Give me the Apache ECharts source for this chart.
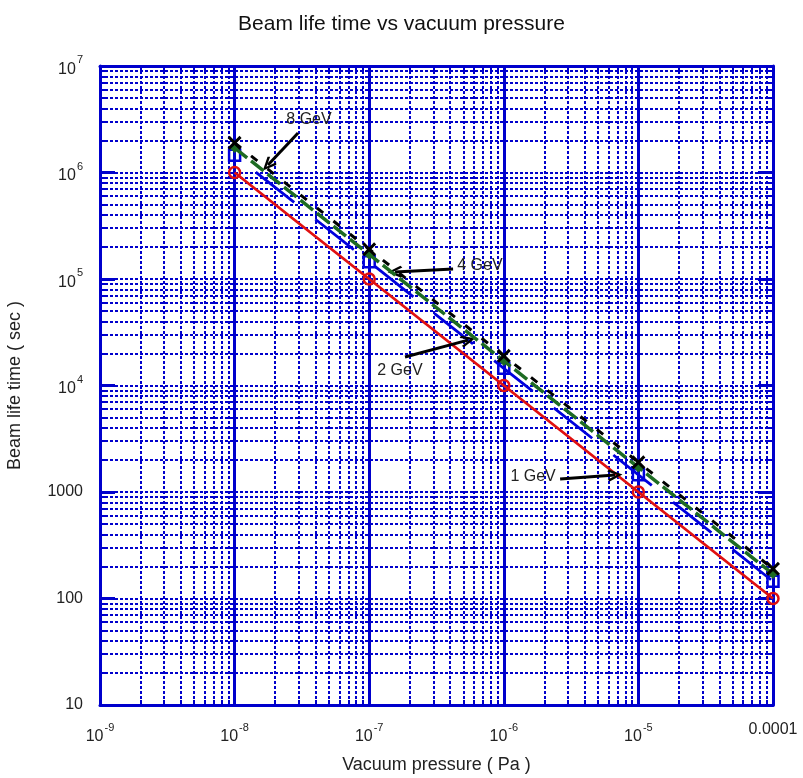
<!DOCTYPE html>
<html>
<head>
<meta charset="utf-8">
<title>Beam life time vs vacuum pressure</title>
<script src="https://cdn.jsdelivr.net/npm/echarts@6/dist/echarts.min.js"></script>
<style>
  html, body { margin: 0; padding: 0; background: #fff; }
  #chart { width: 803px; height: 778px; }
</style>
</head>
<body>
<div id="chart"></div>
<script>
// Vacuum pressure (Pa) at which each beam energy was evaluated
const pressure = [1e-8, 1e-7, 1e-6, 1e-5, 1e-4];

// Beam life time (sec) for each beam energy
const life1GeV = [1e6, 1e5, 1e4, 1000, 100];
const life2GeV = [1.45e6, 1.45e5, 1.45e4, 1450, 145];
const life4GeV = [1.7e6, 1.7e5, 1.7e4, 1700, 170];
const life8GeV = [1.9e6, 1.9e5, 1.9e4, 1900, 190];

// Tick labels keyed by decade exponent: [base text, superscript]
const xTickLabels = { '-9': ['10', '-9'], '-8': ['10', '-8'], '-7': ['10', '-7'], '-6': ['10', '-6'], '-5': ['10', '-5'], '-4': ['0.0001', ''] };
const yTickLabels = { '1': ['10', ''], '2': ['100', ''], '3': ['1000', ''], '4': ['10', '4'], '5': ['10', '5'], '6': ['10', '6'], '7': ['10', '7'] };

// Callout text and arrows, in data coordinates (pressure, life time)
const calloutText = ['8 GeV', '4 GeV', '2 GeV', '1 GeV'];
const calloutTextAt = [[3.57e-8, 3.11e6], [6.65e-7, 1.35e5], [1.69e-7, 1.37e4], [1.65e-6, 1384]];
const calloutArrowFrom = [[2.96e-8, 2.35e6], [4.2e-7, 1.24e5], [1.845e-7, 1.853e4], [2.62e-6, 1325]];
const calloutArrowTo = [[1.77e-8, 1.175e6], [1.556e-7, 1.164e5], [5.42e-7, 2.67e4], [6.7e-6, 1445]];

const FONT = 'Liberation Sans, Arial, Helvetica, sans-serif';
const GRID_BLUE = '#0000cc';

const pairs = ys => pressure.map((p, i) => [p, ys[i]]);
const decade = v => String(Math.round(Math.log10(v)));
const tickText = table => v => {
  const t = table[decade(v)];
  if (!t) return '';
  return '{b|' + t[0] + '}' + (t[1] ? '{sup|' + t[1] + '}' : '');
};

const labelRich = {
  b: { fontSize: 16, fontFamily: FONT, color: '#222', verticalAlign: 'bottom' },
  sup: { fontSize: 11, fontFamily: FONT, color: '#222', verticalAlign: 'bottom', padding: [0, 0, 12, 1] }
};

const dotted = { color: GRID_BLUE, width: 2, type: [3, 2] };
const frame = { show: true, onZero: false, lineStyle: { color: GRID_BLUE, width: 3 } };

function baseX(extra) {
  return Object.assign({
    type: 'log', logBase: 10, min: 1e-9, max: 1e-4,
    axisLine: frame,
    axisTick: { show: true, inside: true, length: 14, lineStyle: { color: GRID_BLUE, width: 3 } },
    minorTick: { show: true, splitNumber: 9, length: 5, lineStyle: { color: GRID_BLUE, width: 2 } },
    axisLabel: { show: false },
    splitLine: { show: false },
    minorSplitLine: { show: false }
  }, extra);
}
function baseY(extra) {
  return Object.assign({
    type: 'log', logBase: 10, min: 10, max: 1e7,
    axisLine: frame,
    axisTick: { show: true, inside: true, length: 15, lineStyle: { color: GRID_BLUE, width: 3 } },
    minorTick: { show: true, splitNumber: 9, length: 5, lineStyle: { color: GRID_BLUE, width: 2 } },
    axisLabel: { show: false },
    splitLine: { show: false },
    minorSplitLine: { show: false }
  }, extra);
}

// Open chevron arrowhead (tip pointing up, rotated along the line by ECharts)
const chevron = 'path://M5,0 L10,9 L8.4,10.2 L5,3.6 L1.6,10.2 L0,9 Z';
// Bold "x" marker
const cross = 'path://M1.5,0 L5,3.5 L8.5,0 L10,1.5 L6.5,5 L10,8.5 L8.5,10 L5,6.5 L1.5,10 L0,8.5 L3.5,5 L0,1.5 Z';

const chart = echarts.init(document.getElementById('chart'), null, { renderer: 'canvas' });

chart.setOption({
  animation: false,
  backgroundColor: '#fff',
  title: {
    text: 'Beam life time vs vacuum pressure',
    left: 'center', top: 9,
    textStyle: { fontFamily: FONT, fontSize: 21, fontWeight: 'normal', color: '#111' }
  },
  grid: { left: 100, right: 30, top: 66, bottom: 73, containLabel: false, outerBoundsMode: 'none' },
  xAxis: [
    baseX({
      position: 'bottom',
      name: 'Vacuum pressure ( Pa )',
      nameLocation: 'middle', nameGap: 51,
      nameTextStyle: { fontFamily: FONT, fontSize: 18, color: '#222' },
      axisLabel: { show: true, margin: 17, formatter: tickText(xTickLabels), rich: labelRich },
      splitLine: { show: true, lineStyle: { color: GRID_BLUE, width: 3, type: 'solid' } },
      minorSplitLine: { show: true, lineStyle: dotted }
    }),
    baseX({ position: 'top' })
  ],
  yAxis: [
    baseY({
      position: 'left',
      name: 'Beam life time ( sec )',
      nameLocation: 'middle', nameGap: 76, nameRotate: 90,
      nameTextStyle: { fontFamily: FONT, fontSize: 18, color: '#222' },
      axisLabel: { show: true, margin: 17, formatter: tickText(yTickLabels), rich: labelRich },
      splitLine: { show: true, lineStyle: dotted },
      minorSplitLine: { show: true, lineStyle: dotted }
    }),
    baseY({ position: 'right' })
  ],
  series: [
    {
      name: '1 GeV', type: 'line', data: pairs(life1GeV),
      symbol: 'circle', symbolSize: 11,
      lineStyle: { color: '#e01010', width: 2.8 },
      itemStyle: { color: 'rgba(0,0,0,0)', borderColor: '#e01010', borderWidth: 2.5 },
      z: 3
    },
    {
      name: '2 GeV', type: 'line', data: pairs(life2GeV),
      symbol: 'rect', symbolSize: [11, 11],
      lineStyle: { color: '#0000dd', width: 2.8, type: [49, 27], dashOffset: 49 },
      itemStyle: { color: 'rgba(0,0,0,0)', borderColor: '#0000dd', borderWidth: 2.5 },
      z: 4
    },
    {
      name: '4 GeV', type: 'line', data: pairs(life4GeV),
      symbol: 'diamond', symbolSize: 10,
      lineStyle: { color: '#1d6b22', width: 3.5, type: [16, 5] },
      itemStyle: { color: '#1d6b22' },
      z: 5
    },
    {
      name: '8 GeV', type: 'line', data: pairs(life8GeV),
      symbol: cross, symbolSize: 14,
      lineStyle: { color: '#000', width: 3, type: [8, 13] },
      itemStyle: { color: '#000' },
      z: 6
    },
    {
      name: 'callouts', type: 'line', data: [], z: 7,
      markLine: {
        silent: true, animation: false,
        symbol: ['none', chevron], symbolSize: [12, 15],
        label: { show: false },
        lineStyle: { color: '#000', width: 3, type: 'solid' },
        data: calloutArrowFrom.map((a, i) => [{ coord: a }, { coord: calloutArrowTo[i] }])
      },
      markPoint: {
        silent: true, animation: false,
        symbol: 'circle', symbolSize: 0,
        label: { show: true, position: 'inside', fontFamily: FONT, fontSize: 16, color: '#222' },
        data: calloutTextAt.map((c, i) => ({ coord: c, value: calloutText[i], label: { formatter: calloutText[i] } }))
      }
    }
  ]
});
</script>
</body>
</html>
